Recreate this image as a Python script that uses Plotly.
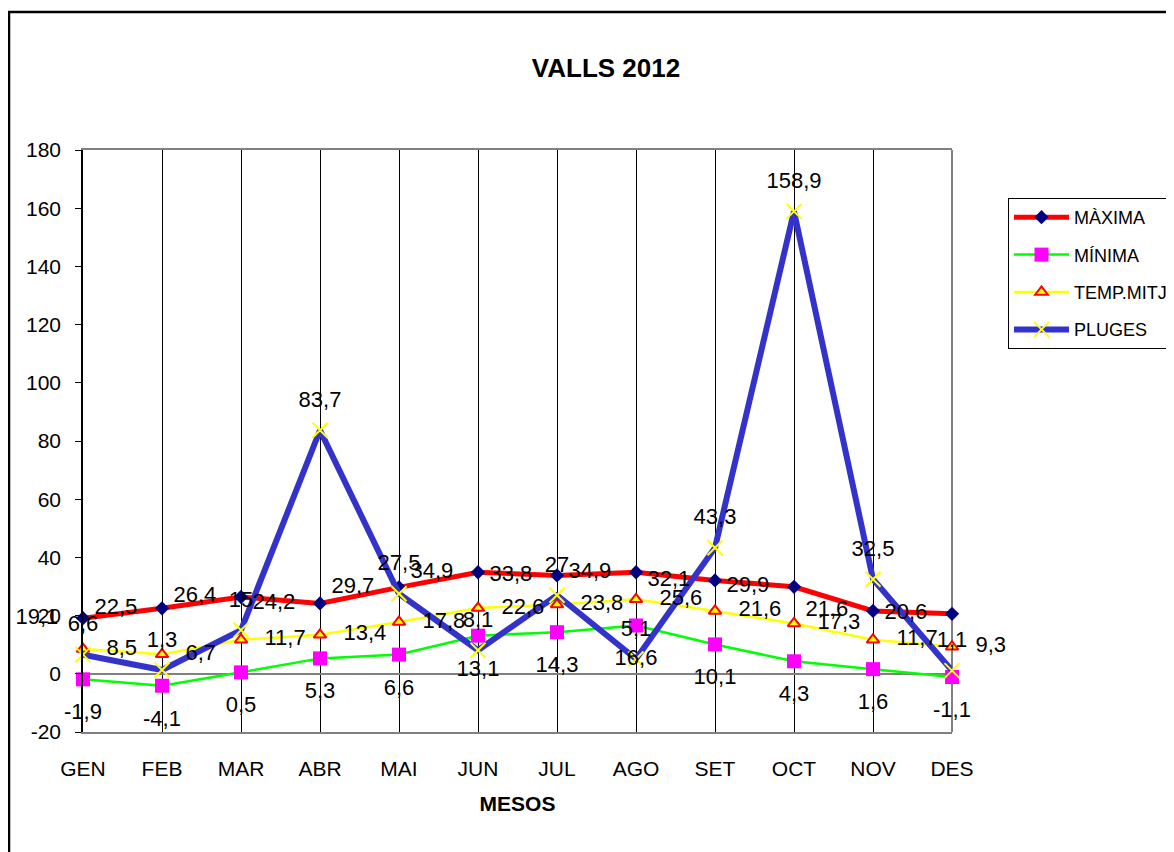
import plotly.graph_objects as go

mesos = ["GEN", "FEB", "MAR", "ABR", "MAI", "JUN", "JUL", "AGO", "SET", "OCT", "NOV", "DES"]
maxima = [19.1, 22.5, 26.4, 24.2, 29.7, 34.9, 33.8, 34.9, 32.1, 29.9, 21.6, 20.6]
minima = [-1.9, -4.1, 0.5, 5.3, 6.6, 13.1, 14.3, 16.6, 10.1, 4.3, 1.6, -1.1]
temp_mitj = [8.5, 6.7, 11.7, 13.4, 17.8, 22.6, 23.8, 25.6, 21.6, 17.3, 11.7, 9.3]
pluges = [6.6, 1.3, 15, 83.7, 27.5, 8.1, 27, 5.1, 43.3, 158.9, 32.5, 1.1]
y_ticks = [-20, 0, 20, 40, 60, 80, 100, 120, 140, 160, 180]


def fmt(v):
    return f"{v:g}".replace(".", ",")


FONT = "Liberation Sans, Arial, sans-serif"
OFF = 8  # page body margin
W, H = 1174 - OFF, 852 - OFF
L, R, T, B = 83 - OFF, 222, 150 - OFF, 120
PW, PH = W - L - R, H - T - B

fig = go.Figure()

series = [
    ("MÀXIMA", maxima, dict(color="#FF0000", width=5),
     dict(symbol="diamond", size=11, color="#000080", line=dict(width=0))),
    ("MÍNIMA", minima, dict(color="#00FF00", width=2.5),
     dict(symbol="square", size=14, color="#FF00FF", line=dict(width=0))),
    ("TEMP.MITJ", temp_mitj, dict(color="#FFFF00", width=2.5),
     dict(symbol="triangle-up", size=11, color="#FFFF00", line=dict(color="#FF0000", width=2))),
    ("PLUGES", pluges, dict(color="#3333CC", width=6),
     dict(symbol="x-thin", size=15, color="#FFFF00", line=dict(color="#FFFF00", width=2))),
]

for name, vals, line, marker in series:
    fig.add_trace(go.Scatter(
        x=mesos, y=vals, name=name, mode="lines+markers",
        line=line, marker=marker, cliponaxis=False,
        legendgroup=name, hoverinfo="x+y+name",
    ))

# data labels (invisible markers only set the label offset)
labels = [
    (maxima, "middle left", 38),
    (minima, "bottom center", 36),
    (temp_mitj, "middle right", 36),
    (pluges, "top center", 27),
]
for vals, pos, sz in labels:
    fig.add_trace(go.Scatter(
        x=mesos, y=vals, mode="markers+text",
        text=[fmt(v) for v in vals], textposition=pos,
        textfont=dict(family=FONT, size=22, color="#000000"),
        marker=dict(size=sz, color="rgba(0,0,0,0)"),
        cliponaxis=False, showlegend=False, hoverinfo="skip",
    ))

# outer chart border
fig.add_shape(type="rect", xref="paper", yref="paper",
              x0=(9 - 83) / PW, x1=(1174 + 30 - 83) / PW,
              y0=-(852 + 30 - 732) / PH, y1=(732 - 12) / PH,
              line=dict(color="#000000", width=2.5), layer="below")
# right border of plot area
fig.add_shape(type="line", xref="paper", yref="paper", x0=1, x1=1, y0=0, y1=1,
              line=dict(color="#808080", width=2), layer="between")

fig.update_layout(
    width=W, height=H,
    margin=dict(l=L, r=R, t=T, b=B, autoexpand=False),
    paper_bgcolor="white", plot_bgcolor="white",
    font=dict(family=FONT, size=20, color="#000000"),
    title=dict(text="<b>VALLS 2012</b>", x=(606 - OFF) / W, xref="container", xanchor="center",
               y=1 - (68 - OFF) / H, yref="container", yanchor="middle",
               font=dict(family=FONT, size=26, color="#000000")),
    showlegend=True,
    legend=dict(x=(1008 - 83) / PW, xanchor="left", y=(732 - 198) / PH, yanchor="top",
                bordercolor="#000000", borderwidth=1, bgcolor="white",
                font=dict(family=FONT, size=18, color="#000000"),
                itemwidth=55, tracegroupgap=11),
    xaxis=dict(type="category", categoryorder="array", categoryarray=mesos,
               range=[0, 11], showgrid=True, gridcolor="#000000", gridwidth=1,
               showline=True, linecolor="#808080", linewidth=2, mirror=True,
               ticks="", ticklabelstandoff=17,
               tickfont=dict(family=FONT, size=21),
               title=dict(text="<b>MESOS</b>", standoff=17,
                          font=dict(family=FONT, size=21)),
               zeroline=False),
    yaxis=dict(range=[-20, 180], tickvals=y_ticks, ticktext=[str(t) for t in y_ticks],
               showgrid=False, showline=True, linecolor="#000000", linewidth=1.5,
               ticks="outside", ticklen=6, tickcolor="#000000", tickwidth=1,
               ticklabelstandoff=10,
               tickfont=dict(family=FONT, size=21),
               zeroline=True, zerolinecolor="#808080", zerolinewidth=1.5),
)

fig.write_html("out.html")
